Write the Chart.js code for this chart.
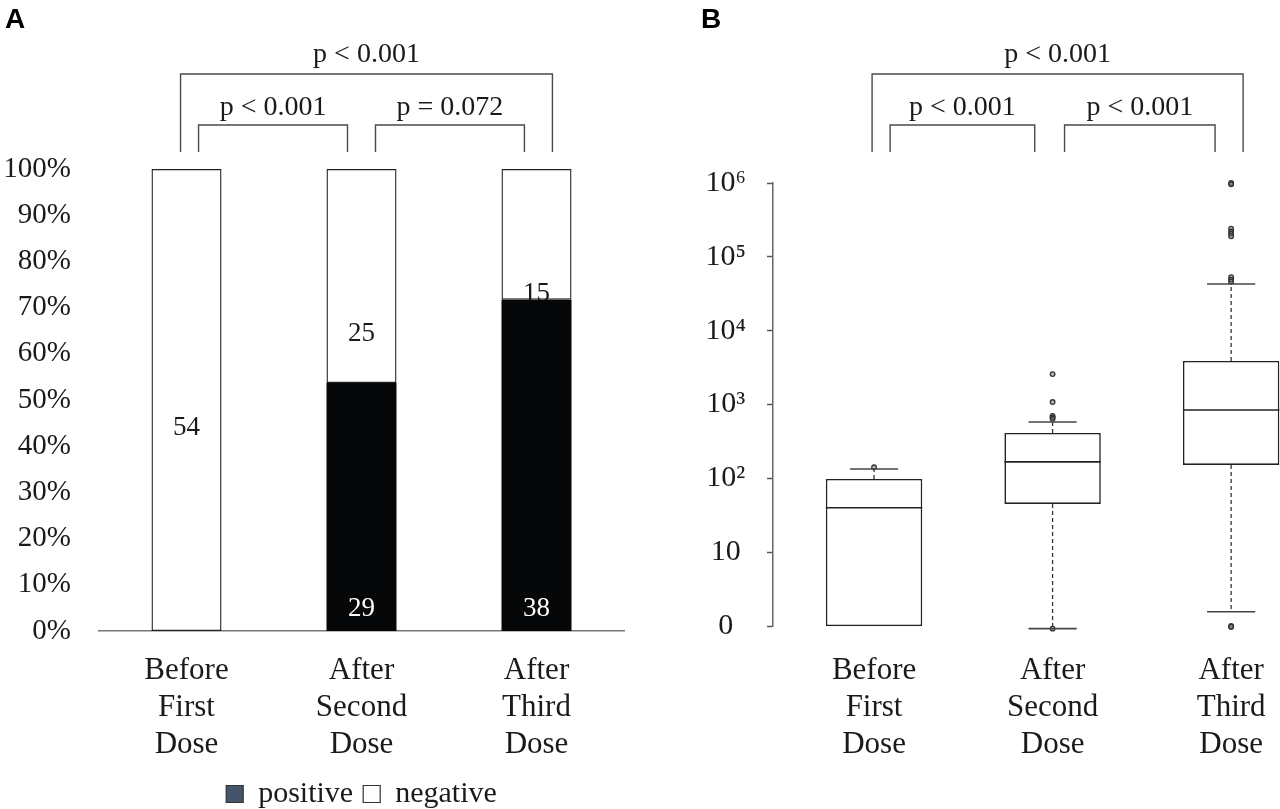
<!DOCTYPE html>
<html>
<head>
<meta charset="utf-8">
<title>Antibody response by dose</title>
<script src="https://cdn.jsdelivr.net/npm/chart.js@4.4.1/dist/chart.umd.min.js"></script>
<style>
  html, body { margin: 0; padding: 0; background: #fff; overflow: hidden; }
  #wrap { position: relative; width: 1280px; height: 809px; overflow: hidden; }
  #panelA { position: absolute; left: 0; top: 0; width: 640px; height: 820px; }
  #panelB { position: absolute; left: 680px; top: 0; width: 600px; height: 809px; }
</style>
</head>
<body>
<div id="wrap">
  <div id="panelA"><canvas id="chartA"></canvas></div>
  <div id="panelB"><canvas id="chartB"></canvas></div>
</div>
<script>
// Data
const categories = [['Before', 'First', 'Dose'], ['After', 'Second', 'Dose'], ['After', 'Third', 'Dose']];

// Panel A: counts per group
const positiveCounts = [0, 29, 38];
const negativeCounts = [54, 25, 15];
// where the count labels sit (in % of the axis)
const negativeLabelAt = [43.9, 64.3, 72.9];
const positiveLabelAt = [4.7, 4.7, 4.7];
const pValuesA = ['p < 0.001', 'p < 0.001', 'p = 0.072'];

// Panel B: box plot summary (log scale, 0 drawn at 1)
const boxQ1 = [1, 45, 152];
const boxMedian = [40, 167, 843];
const boxQ3 = [98, 411, 3880];
const whiskerLow = [1, 0.92, 1.56];
const whiskerHigh = [134, 580, 42900];
const outliersBefore = [141];
const outliersSecond = [2580, 1080, 700, 670, 640, 0.92];
const outliersThird = [1000000, 960000, 240000, 220000, 205000, 190000, 53000, 49000, 46000, 1, 0.97];
const logTickValues = [1, 10, 100, 1e3, 1e4, 1e5, 1e6];
const logTickLabels = ['0', '10', '10²', '10³', '10⁴', '10⁵', '10⁶'];
const pValuesB = ['p < 0.001', 'p < 0.001', 'p < 0.001'];

// comparisons: [from, to] – outer one first
const comparisonPairs = [[0, 2], [0, 1], [1, 2]];

const SERIF = "'Liberation Serif', 'Times New Roman', serif";
const INK = '#1a1a1a';

const totals = positiveCounts.map((p, i) => p + negativeCounts[i]);
const positivePct = positiveCounts.map((p, i) => p / totals[i] * 100);
const negativePct = negativeCounts.map((n, i) => n / totals[i] * 100);

// significance brackets, leg offsets in category units
function drawBrackets(chart, texts, legOffsets) {
  const { ctx } = chart;
  const x = chart.scales.x;
  const unit = x.getPixelForValue(1) - x.getPixelForValue(0);
  const px = (idx, frac) => x.getPixelForValue(idx) + frac * unit;
  const tops = [74, 125, 125];
  const baselines = [62, 115, 115];
  const legBottom = 152;
  ctx.save();
  ctx.strokeStyle = '#4a4a4a';
  ctx.lineWidth = 1.4;
  ctx.fillStyle = INK;
  ctx.font = '28px ' + SERIF;
  ctx.textAlign = 'center';
  ctx.textBaseline = 'alphabetic';
  comparisonPairs.forEach(([a, b], k) => {
    const x1 = px(a, legOffsets[k][0]);
    const x2 = px(b, legOffsets[k][1]);
    ctx.beginPath();
    ctx.moveTo(x1, legBottom);
    ctx.lineTo(x1, tops[k]);
    ctx.lineTo(x2, tops[k]);
    ctx.lineTo(x2, legBottom);
    ctx.stroke();
    ctx.fillText(texts[k], (x1 + x2) / 2, baselines[k]);
  });
  ctx.restore();
}

function drawLetter(chart, letter, x) {
  const { ctx } = chart;
  ctx.save();
  ctx.font = "bold 28px 'Liberation Sans', Arial, sans-serif";
  ctx.fillStyle = '#000';
  ctx.textBaseline = 'alphabetic';
  ctx.fillText(letter, x, 28);
  ctx.restore();
}

const panelAPlugin = {
  id: 'panelA',
  afterDatasetDraw(chart, args) {
    // negative counts go down before the black bars so "15" gets clipped like the original
    if (args.index !== 1) return;
    const { ctx } = chart;
    const x = chart.scales.x, y = chart.scales.y;
    ctx.save();
    ctx.font = '27px ' + SERIF;
    ctx.fillStyle = INK;
    ctx.textAlign = 'center';
    ctx.textBaseline = 'middle';
    negativeCounts.forEach((n, i) => {
      ctx.fillText(String(n), x.getPixelForValue(i), y.getPixelForValue(negativeLabelAt[i]));
    });
    ctx.restore();
  },
  afterDatasetsDraw(chart) {
    const { ctx } = chart;
    const x = chart.scales.x, y = chart.scales.y;
    ctx.save();
    ctx.font = '27px ' + SERIF;
    ctx.fillStyle = '#fff';
    ctx.textAlign = 'center';
    ctx.textBaseline = 'middle';
    positiveCounts.forEach((p, i) => {
      if (!p) return;
      ctx.fillText(String(p), x.getPixelForValue(i), y.getPixelForValue(positiveLabelAt[i]));
    });
    ctx.restore();
    drawBrackets(chart, pValuesA, [[-0.034, 0.091], [0.069, -0.08], [0.08, -0.069]]);
    drawLetter(chart, 'A', 5);
  }
};

const boxPlugin = {
  id: 'boxDetails',
  afterDatasetsDraw(chart) {
    const { ctx } = chart;
    const y = chart.scales.y;
    const meta = chart.getDatasetMeta(0);
    ctx.save();
    meta.data.forEach((bar, i) => {
      const half = bar.width / 2;
      const cx = bar.x;
      // median
      ctx.strokeStyle = '#222';
      ctx.lineWidth = 1.6;
      ctx.setLineDash([]);
      ctx.beginPath();
      ctx.moveTo(cx - half, y.getPixelForValue(boxMedian[i]));
      ctx.lineTo(cx + half, y.getPixelForValue(boxMedian[i]));
      ctx.stroke();
      // whiskers
      const ends = [[boxQ3[i], whiskerHigh[i]], [boxQ1[i], whiskerLow[i]]];
      ends.forEach(([from, to]) => {
        if (from === to) return;
        const y1 = y.getPixelForValue(from), y2 = y.getPixelForValue(to);
        ctx.strokeStyle = '#333';
        ctx.lineWidth = 1.3;
        ctx.setLineDash([4, 3]);
        ctx.beginPath();
        ctx.moveTo(cx, y1);
        ctx.lineTo(cx, y2);
        ctx.stroke();
        ctx.setLineDash([]);
        ctx.strokeStyle = '#444';
        ctx.lineWidth = 1.6;
        ctx.beginPath();
        ctx.moveTo(cx - half * 0.5, y2);
        ctx.lineTo(cx + half * 0.5, y2);
        ctx.stroke();
      });
    });
    ctx.restore();
    drawBrackets(chart, pValuesB, [[-0.011, 0.067], [0.09, -0.10], [0.067, -0.09]]);
    drawLetter(chart, 'B', 21);
  }
};

Chart.defaults.font.family = SERIF;
Chart.defaults.color = INK;

new Chart(document.getElementById('chartA'), {
  type: 'bar',
  data: {
    labels: categories,
    datasets: [
      { label: 'positive', data: positivePct, backgroundColor: '#050708', borderWidth: 0,
        stack: 's', barPercentage: 0.4, categoryPercentage: 1 },
      { label: 'negative', data: negativePct, backgroundColor: '#ffffff', borderColor: '#222',
        borderWidth: 1.4, borderSkipped: false, stack: 's', barPercentage: 0.4, categoryPercentage: 1 },
    ],
  },
  options: {
    responsive: true, maintainAspectRatio: false, animation: false,
    layout: { padding: { top: 169, right: 16, bottom: 1, left: 0 } },
    plugins: {
      tooltip: { enabled: false },
      legend: {
        position: 'bottom', fullSize: false,
        labels: {
          font: { size: 30, family: SERIF }, color: INK, boxWidth: 17, boxHeight: 17, padding: 10,
          generateLabels: (chart) => {
            const items = Chart.defaults.plugins.legend.labels.generateLabels(chart);
            const fills = ['#44546a', '#ffffff'];
            items.forEach((it, i) => { it.fillStyle = fills[i]; it.strokeStyle = '#333'; it.lineWidth = 1.2; });
            return items;
          },
        },
      },
    },
    scales: {
      x: {
        stacked: true,
        grid: { display: false, drawTicks: false },
        border: { display: true, color: '#777', width: 1.6 },
        ticks: { font: { size: 31, family: SERIF, lineHeight: 1.2 }, color: INK, padding: 21, maxRotation: 0, autoSkip: false },
        afterFit: (s) => { s.height = 138; },
      },
      y: {
        stacked: true, min: 0, max: 100,
        grid: { display: false, drawTicks: false },
        border: { display: false },
        ticks: { stepSize: 10, callback: (v) => v + '%', font: { size: 29, family: SERIF }, color: INK, padding: 28 },
        afterFit: (s) => { s.width = 99; },
      },
    },
  },
  plugins: [panelAPlugin],
});

const outlierPoints = [outliersBefore, outliersSecond, outliersThird]
  .flatMap((vals, i) => vals.map((v) => ({ x: i, y: v })));

new Chart(document.getElementById('chartB'), {
  type: 'bar',
  data: {
    datasets: [
      { type: 'bar', data: boxQ1.map((q, i) => ({ x: i, y: [q, boxQ3[i]] })),
        backgroundColor: '#ffffff', borderColor: '#222', borderWidth: 1.6, borderSkipped: false,
        barPercentage: 0.54, categoryPercentage: 1, clip: false },
      { type: 'scatter', data: outlierPoints, pointRadius: 2.3, pointBorderWidth: 1.3, clip: false,
        pointBorderColor: '#333', pointBackgroundColor: 'rgba(120,120,120,0.5)' },
    ],
  },
  options: {
    responsive: true, maintainAspectRatio: false, animation: false,
    layout: { padding: { top: 183, right: 0, bottom: 0, left: 0 } },
    plugins: { legend: { display: false }, tooltip: { enabled: false } },
    scales: {
      x: {
        type: 'linear', min: -0.566, max: 2.244, offset: false,
        grid: { display: false, drawTicks: false },
        border: { display: false },
        afterBuildTicks: (s) => { s.ticks = categories.map((c, i) => ({ value: i })); },
        ticks: { callback: (v, i) => categories[i], font: { size: 31, family: SERIF, lineHeight: 1.2 },
          color: INK, padding: 26, maxRotation: 0, autoSkip: false },
        afterFit: (s) => { s.height = 183; s.paddingLeft = 0; s.paddingRight = 0; },
      },
      y: {
        type: 'logarithmic', min: 1, max: 1e6,
        afterBuildTicks: (s) => { s.ticks = logTickValues.map((v) => ({ value: v })); },
        ticks: { callback: (v, i) => logTickLabels[i], crossAlign: 'center', padding: 21,
          font: { size: 30, family: SERIF }, color: INK, autoSkip: false },
        grid: { display: true, drawOnChartArea: false, drawTicks: true, tickLength: 6, tickColor: '#555', tickWidth: 1.5 },
        border: { display: true, color: '#666', width: 1.5 },
        afterFit: (s) => { s.width = 93; },
      },
    },
  },
  plugins: [boxPlugin],
});
</script>
</body>
</html>
